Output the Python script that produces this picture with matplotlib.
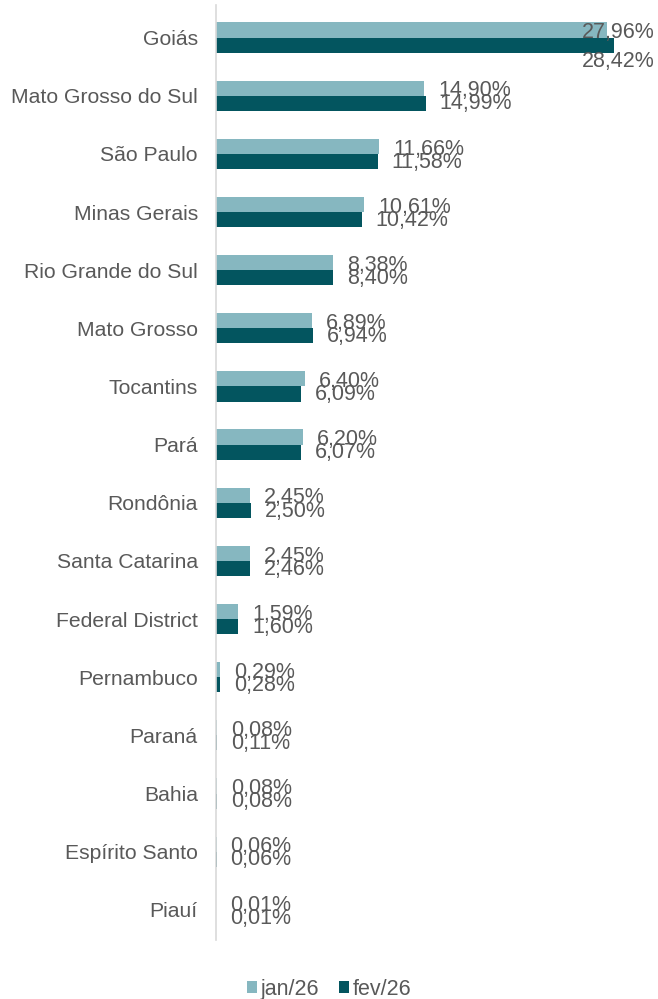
import matplotlib
matplotlib.use("Agg")
import matplotlib.pyplot as plt
import numpy as np

plt.rcParams["font.family"] = ["Liberation Sans", "DejaVu Sans"]

states = ["Goiás", "Mato Grosso do Sul", "São Paulo", "Minas Gerais",
          "Rio Grande do Sul", "Mato Grosso", "Tocantins", "Pará",
          "Rondônia", "Santa Catarina", "Federal District", "Pernambuco",
          "Paraná", "Bahia", "Espírito Santo", "Piauí"]
jan26 = [27.96, 14.90, 11.66, 10.61, 8.38, 6.89, 6.40, 6.20,
         2.45, 2.45, 1.59, 0.29, 0.08, 0.08, 0.06, 0.01]
fev26 = [28.42, 14.99, 11.58, 10.42, 8.40, 6.94, 6.09, 6.07,
         2.50, 2.46, 1.60, 0.28, 0.11, 0.08, 0.06, 0.01]

c_jan = "#86b7c0"
c_fev = "#03555f"
txt = "#595959"
fs_val = 15.5
fs_cat = 15.2

fig = plt.figure(figsize=(6.58, 9.99), dpi=100)
ax = fig.add_axes([0.328, 0.059, 0.667, 0.936])

y = np.arange(len(states))
h = 0.26
ax.barh(y - h / 2, jan26, height=h, color=c_jan, label="jan/26")
ax.barh(y + h / 2, fev26, height=h, color=c_fev, label="fev/26")

xmax = 31.36
ax.set_xlim(0, xmax)
ax.set_ylim(15.52, -0.56)

def fmt(v):
    return f"{v:.2f}%".replace(".", ",")

for i, (a, b) in enumerate(zip(jan26, fev26)):
    if i == 0:
        # top bar overflows: labels pushed to the right edge
        ax.annotate(fmt(a), (xmax, i - h / 2), xytext=(0, -1.5),
                    textcoords="offset points", ha="right", va="center",
                    fontsize=fs_val, color=txt, annotation_clip=False)
        ax.annotate(fmt(b), (xmax, i + h / 2), xytext=(0, -11.5),
                    textcoords="offset points", ha="right", va="center",
                    fontsize=fs_val, color=txt, annotation_clip=False)
        continue
    ax.annotate(fmt(a), (a, i - h / 2), xytext=(10, -2),
                textcoords="offset points", ha="left", va="center",
                fontsize=fs_val, color=txt)
    ax.annotate(fmt(b), (b, i + h / 2), xytext=(10, -0.5),
                textcoords="offset points", ha="left", va="center",
                fontsize=fs_val, color=txt)

ax.set_yticks(y)
ax.set_yticklabels(states, fontsize=fs_cat, color=txt)
ax.tick_params(axis="y", length=0, pad=13)
ax.set_xticks([])
for s in ["top", "right", "bottom"]:
    ax.spines[s].set_visible(False)
ax.spines["left"].set_color("#d9d9d9")
ax.spines["left"].set_linewidth(1.2)

fig.legend(loc="lower center", bbox_to_anchor=(0.5, -0.02), ncol=2,
           frameon=False, fontsize=fs_val, labelcolor=txt,
           handlelength=0.47, handleheight=0.47, handletextpad=0.15,
           columnspacing=0.95)

fig.savefig("out.png", dpi=100)
